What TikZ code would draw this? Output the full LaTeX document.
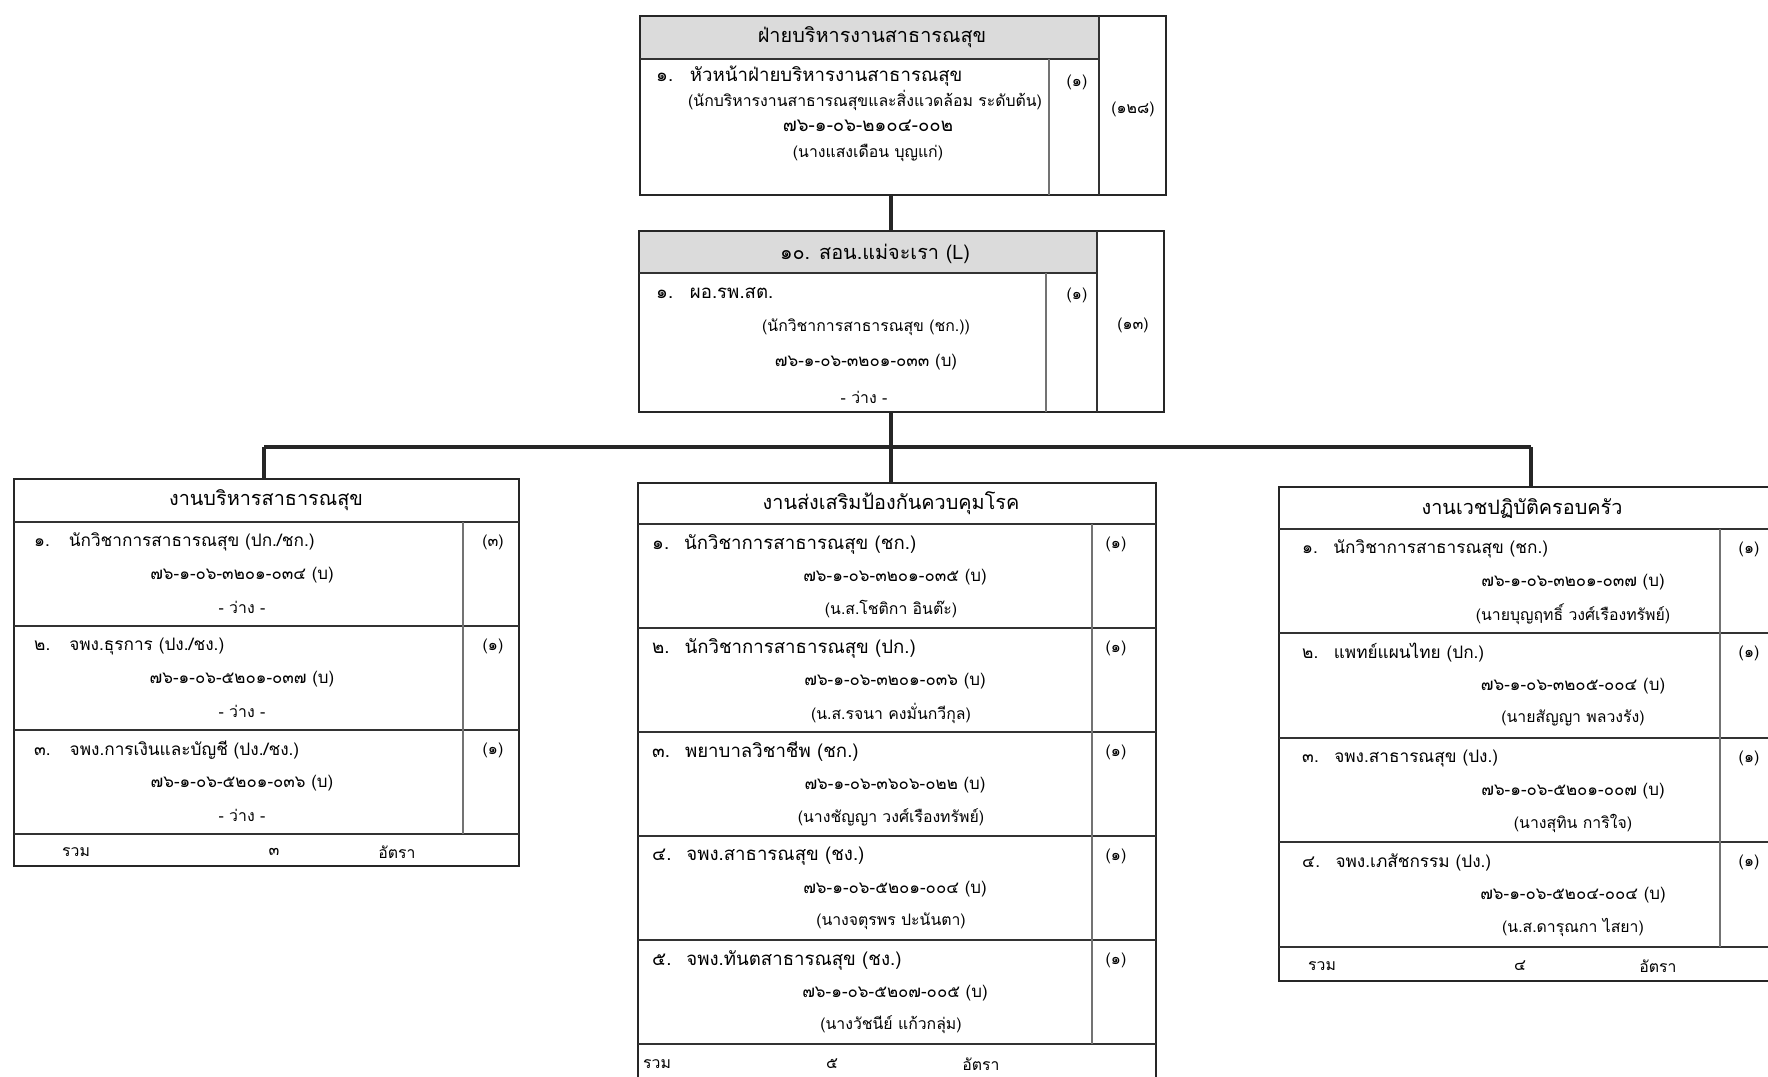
\documentclass[tikz,border=0pt]{standalone}
\usepackage{fontspec}
\setmainfont{Loma}[Script=Thai]
\tikzset{
  frame/.style={draw=black!85,line width=1.6pt},
  rowline/.style={draw=black!80,line width=1.3pt},
  colline/.style={draw=black!55,line width=0.6pt},
  link/.style={draw=black!85,line width=1.8pt},
  head/.style={font=\fontsize{11.3}{13}\selectfont},
  title/.style={anchor=west,font=\fontsize{10.6}{13}\selectfont},
  smalltitle/.style={anchor=west,font=\fontsize{9.8}{12}\selectfont},
  info/.style={font=\fontsize{9}{11}\selectfont},
  code/.style={font=\fontsize{9.6}{11}\selectfont},
  cnt/.style={font=\fontsize{9}{11}\selectfont}
}
\begin{document}
\begin{tikzpicture}[x=0.02cm,y=-0.02cm]%
  \clip (0,0) rectangle (1768,1076);
  \fill[white] (0,0) rectangle (1768,1076);
  % top box
  \fill[black!14] (640,16) rectangle (1099,59);
  \draw[frame] (640,16) rectangle (1166,195);
  \draw[rowline] (640,59) -- (1099,59);
  \draw[rowline] (1099,16) -- (1099,195);
  \draw[colline] (1049,59) -- (1049,195);
  \node[head] (topH) at (872,37) {ฝ่ายบริหารงานสาธารณสุข};
  \node[title] (topT) at (650,76) {๑.\hspace{0.9em}หัวหน้าฝ่ายบริหารงานสาธารณสุข};
  \node[info,anchor=west] (topP) at (682,100) {(นักบริหารงานสาธารณสุขและสิ่งแวดล้อม ระดับต้น)};
  \node[code,font=\fontsize{10.6}{12}\selectfont] (topN) at (868,126) {๗๖-๑-๐๖-๒๑๐๔-๐๐๒};
  \node[info] (topW) at (868,153) {(นางแสงเดือน บุญแก่)};
  \node[cnt] (topC) at (1077,82) {(๑)};
  \node[cnt] (topS) at (1133,109) {(๑๒๘)};
  \coordinate (topB) at (891,195);
  % second box
  \fill[black!14] (639,231) rectangle (1097,273);
  \draw[frame] (639,231) rectangle (1164,412);
  \draw[rowline] (639,273) -- (1097,273);
  \draw[rowline] (1097,231) -- (1097,412);
  \draw[colline] (1046,273) -- (1046,412);
  \node[head] (midH) at (875,254) {๑๐. สอน.แม่จะเรา (L)};
  \node[title] (midT) at (650,293) {๑.\hspace{0.9em}ผอ.รพ.สต.};
  \node[info] (midP) at (866,327) {(นักวิชาการสาธารณสุข (ชก.))};
  \node[code] (midN) at (866,362) {๗๖-๑-๐๖-๓๒๐๑-๐๓๓ (บ)};
  \node[info] (midW) at (864,397) {- ว่าง -};
  \node[cnt] (midC) at (1077,295) {(๑)};
  \node[cnt] (midS) at (1133,325) {(๑๓)};
  \coordinate (midA) at (891,231);
  \coordinate (midB) at (891,412);
  % links
  \coordinate (busM) at (891,447);
  \coordinate (busL) at (264,447);
  \coordinate (busR) at (1531,447);
  \coordinate (boxA) at (264,479);
  \coordinate (boxB) at (891,483);
  \coordinate (boxC) at (1531,487);
  \draw[link] (topB) -- (midA);
  \draw[link] (midB) -- (busM);
  \draw[link] (busL) -- (busR);
  \draw[link] (busL) -- (boxA);
  \draw[link] (busM) -- (boxB);
  \draw[link] (busR) -- (boxC);
  % left box
  \draw[frame] (14,479) rectangle (519,866);
  \foreach \r in {522,626,730,834} \draw[rowline] (14,\r) -- (519,\r);
  \draw[colline] (463,522) -- (463,834);
  \node[head] (AH) at (266,500) {งานบริหารสาธารณสุข};
  \node[smalltitle] (A1) at (28,542) {๑.\hspace{1.1em}นักวิชาการสาธารณสุข (ปก./ชก.)};
  \node[code] (A1n) at (242,575) {๗๖-๑-๐๖-๓๒๐๑-๐๓๔ (บ)};
  \node[info] (A1w) at (242,607) {- ว่าง -};
  \node[cnt] (A1c) at (493,542) {(๓)};
  \node[smalltitle] (A2) at (28,646) {๒.\hspace{1.1em}จพง.ธุรการ (ปง./ชง.)};
  \node[code] (A2n) at (242,679) {๗๖-๑-๐๖-๕๒๐๑-๐๓๗ (บ)};
  \node[info] (A2w) at (242,711) {- ว่าง -};
  \node[cnt] (A2c) at (493,646) {(๑)};
  \node[smalltitle] (A3) at (28,750) {๓.\hspace{1.1em}จพง.การเงินและบัญชี (ปง./ชง.)};
  \node[code] (A3n) at (242,783) {๗๖-๑-๐๖-๕๒๐๑-๐๓๖ (บ)};
  \node[info] (A3w) at (242,815) {- ว่าง -};
  \node[cnt] (A3c) at (493,750) {(๑)};
  \node[info,anchor=west] (AS1) at (56,852) {รวม};
  \node[info] (AS2) at (274,852) {๓};
  \node[info] (AS3) at (397,852) {อัตรา};
  % centre box
  \draw[frame] (638,483) rectangle (1156,1086);
  \foreach \r in {524,628,732,836,940,1044} \draw[rowline] (638,\r) -- (1156,\r);
  \draw[colline] (1092,524) -- (1092,1044);
  \node[head] (BH) at (891,503) {งานส่งเสริมป้องกันควบคุมโรค};
  \node[title] (B1) at (646,544) {๑.\hspace{0.8em}นักวิชาการสาธารณสุข (ชก.)};
  \node[code] (B1n) at (895,577) {๗๖-๑-๐๖-๓๒๐๑-๐๓๕ (บ)};
  \node[info] (B1w) at (891,609) {(น.ส.โชติกา อินต๊ะ)};
  \node[cnt] (B1c) at (1116,544) {(๑)};
  \node[title] (B2) at (646,648) {๒.\hspace{0.8em}นักวิชาการสาธารณสุข (ปก.)};
  \node[code] (B2n) at (895,681) {๗๖-๑-๐๖-๓๒๐๑-๐๓๖ (บ)};
  \node[info] (B2w) at (891,713) {(น.ส.รจนา คงมั่นกวีกุล)};
  \node[cnt] (B2c) at (1116,648) {(๑)};
  \node[title] (B3) at (646,752) {๓.\hspace{0.8em}พยาบาลวิชาชีพ (ชก.)};
  \node[code] (B3n) at (895,785) {๗๖-๑-๐๖-๓๖๐๖-๐๒๒ (บ)};
  \node[info] (B3w) at (891,817) {(นางชัญญา วงศ์เรืองทรัพย์)};
  \node[cnt] (B3c) at (1116,752) {(๑)};
  \node[title] (B4) at (646,856) {๔.\hspace{0.8em}จพง.สาธารณสุข (ชง.)};
  \node[code] (B4n) at (895,889) {๗๖-๑-๐๖-๕๒๐๑-๐๐๔ (บ)};
  \node[info] (B4w) at (891,921) {(นางจตุรพร ปะนันตา)};
  \node[cnt] (B4c) at (1116,856) {(๑)};
  \node[title] (B5) at (646,960) {๕.\hspace{0.8em}จพง.ทันตสาธารณสุข (ชง.)};
  \node[code] (B5n) at (895,993) {๗๖-๑-๐๖-๕๒๐๗-๐๐๕ (บ)};
  \node[info] (B5w) at (891,1025) {(นางวัชนีย์ แก้วกลุ่ม)};
  \node[cnt] (B5c) at (1116,960) {(๑)};
  \node[info,anchor=west] (BS1) at (637,1064) {รวม};
  \node[info] (BS2) at (832,1064) {๕};
  \node[info] (BS3) at (981,1064) {อัตรา};
  % right box
  \draw[frame] (1279,487) rectangle (1800,981);
  \foreach \r in {529,633,738,842,947} \draw[rowline] (1279,\r) -- (1800,\r);
  \draw[colline] (1720,529) -- (1720,947);
  \node[head] (CH) at (1522,509) {งานเวชปฏิบัติครอบครัว};
  \node[smalltitle] (C1) at (1296,549) {๑.\hspace{0.9em}นักวิชาการสาธารณสุข (ชก.)};
  \node[code] (C1n) at (1573,582) {๗๖-๑-๐๖-๓๒๐๑-๐๓๗ (บ)};
  \node[info] (C1w) at (1573,614) {(นายบุญฤทธิ์ วงศ์เรืองทรัพย์)};
  \node[cnt] (C1c) at (1749,549) {(๑)};
  \node[smalltitle] (C2) at (1296,653) {๒.\hspace{0.9em}แพทย์แผนไทย (ปก.)};
  \node[code] (C2n) at (1573,686) {๗๖-๑-๐๖-๓๒๐๕-๐๐๔ (บ)};
  \node[info] (C2w) at (1573,718) {(นายสัญญา พลวงรัง)};
  \node[cnt] (C2c) at (1749,653) {(๑)};
  \node[smalltitle] (C3) at (1296,758) {๓.\hspace{0.9em}จพง.สาธารณสุข (ปง.)};
  \node[code] (C3n) at (1573,791) {๗๖-๑-๐๖-๕๒๐๑-๐๐๗ (บ)};
  \node[info] (C3w) at (1573,823) {(นางสุทิน การิใจ)};
  \node[cnt] (C3c) at (1749,758) {(๑)};
  \node[smalltitle] (C4) at (1296,862) {๔.\hspace{0.9em}จพง.เภสัชกรรม (ปง.)};
  \node[code] (C4n) at (1573,895) {๗๖-๑-๐๖-๕๒๐๔-๐๐๔ (บ)};
  \node[info] (C4w) at (1573,927) {(น.ส.ดารุณกา ไสยา)};
  \node[cnt] (C4c) at (1749,862) {(๑)};
  \node[info,anchor=west] (CS1) at (1302,966) {รวม};
  \node[info] (CS2) at (1520,966) {๔};
  \node[info] (CS3) at (1658,966) {อัตรา};
\end{tikzpicture}
\end{document}
